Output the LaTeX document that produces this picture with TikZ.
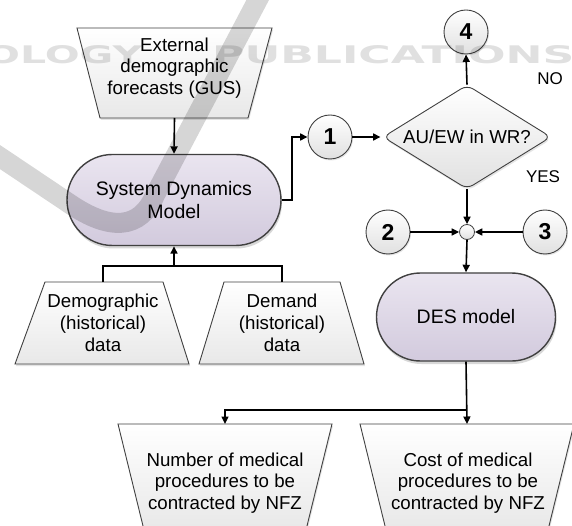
\documentclass[tikz,border=0pt]{standalone}
\usepackage{fontspec}
\usepackage{graphicx}
\setmainfont{Liberation Sans}
\newfontfamily\wmfont{DejaVu Sans}
\usetikzlibrary{shapes.geometric,shapes.misc,arrows.meta,shadows}

\definecolor{lavtop}{HTML}{EAE5F0}
\definecolor{lavbot}{HTML}{D2CADD}
\definecolor{edgegray}{HTML}{404040}

\tikzset{
  txt/.style={font=\fontsize{18.7}{21.7}\selectfont, align=center, inner sep=0pt},
  trapbox/.style={draw=edgegray, line width=0.9pt, top color=white, bottom color=black!9,
    drop shadow={shadow xshift=1pt, shadow yshift=-2pt, opacity=0.22}},
  stadium/.style={rounded rectangle, draw=edgegray, line width=1.4pt,
    top color=lavtop, bottom color=lavbot, inner sep=2pt,
    font=\fontsize{19.5}{23}\selectfont, align=center,
    drop shadow={shadow xshift=1pt, shadow yshift=-3pt, opacity=0.3}},
  numc/.style={circle, draw=edgegray, line width=0.9pt, minimum size=44pt, inner sep=0pt,
    top color=white, bottom color=black!12, font=\fontsize{23}{23}\selectfont\bfseries,
    drop shadow={shadow xshift=1pt, shadow yshift=-1.5pt, opacity=0.2}},
  joint/.style={circle, draw=edgegray, line width=0.8pt, minimum size=15pt, inner sep=0pt,
    top color=white, bottom color=black!12},
  decision/.style={diamond, draw=edgegray, line width=0.9pt, minimum width=168pt,
    minimum height=104pt, aspect=1.6, inner sep=0pt, rounded corners=7pt,
    top color=white, bottom color=black!12, font=\fontsize{18.7}{21.7}\selectfont,
    drop shadow={shadow xshift=1pt, shadow yshift=-2pt, opacity=0.2}},
  conn/.style={draw=black, line width=1.6pt, -{Triangle[length=7.5pt,width=7pt]}},
  plainline/.style={draw=black, line width=1.1pt},
  lbl/.style={font=\fontsize{17}{17}\selectfont, inner sep=0pt}
}

\begin{document}
\begin{tikzpicture}[x=1pt,y=-1pt]
  \clip (0,0) rectangle (572,526);
  \fill[white] (0,0) rectangle (572,526);

  % inputs to the system dynamics model
  \path[trapbox] (77,28) -- (272,28) -- (248,118) -- (100,118) -- cycle;
  \node[txt] (ext) at (174.5,68) {External\\demographic\\forecasts (GUS)};
  \coordinate (ext-s) at (174.5,118);

  \path[trapbox] (45,282) -- (163,282) -- (189,364) -- (15,364) -- cycle;
  \node[txt] (demo) at (103,323) {Demographic\\(historical)\\data};
  \coordinate (demo-n) at (103,282);

  \path[trapbox] (224,282) -- (340,282) -- (364,364) -- (199,364) -- cycle;
  \node[txt] (dem) at (282,323) {Demand\\(historical)\\data};
  \coordinate (dem-n) at (282,282);

  % models
  \node[stadium, minimum width=218pt, minimum height=91pt] (sd) at (174,200) {System Dynamics\\Model};
  \node[stadium, minimum width=183pt, minimum height=88pt] (des) at (466,317) {DES model};

  % decision and connectors
  \node[decision] (dia) at (467,137) {AU/EW in WR?};
  \node[numc] (c1) at (330,137) {1};
  \node[numc] (c4) at (466,32) {4};
  \node[numc] (c2) at (388,232) {2};
  \node[numc] (c3) at (545,232) {3};
  \node[joint] (jn) at (467,232) {};

  \node[lbl] (no) at (550,79) {NO};
  \node[lbl] (yes) at (543,177) {YES};

  % outputs
  \path[trapbox] (118,424) -- (332,424) -- (306,530) -- (144,530) -- cycle;
  \node[txt] (out1) at (225,483) {Number of medical\\procedures to be\\contracted by NFZ};
  \coordinate (out1-n) at (225,424);

  \path[trapbox] (360,424) -- (574,424) -- (548,530) -- (386,530) -- cycle;
  \node[txt] (out2) at (468,483) {Cost of medical\\procedures to be\\contracted by NFZ};
  \coordinate (out2-n) at (467,424);

  % connectors
  \draw[conn] (ext-s) -- (sd.north);
  \coordinate (sd-join) at (174,266);
  \draw[plainline] (demo-n) -- (demo-n |- sd-join) -| (dem-n);
  \draw[conn] (sd-join) -- (sd.south);
  \draw[conn] (sd.east) -- ++(10,0) |- (c1.west);
  \draw[conn] (c1.east) -- ([xshift=-2pt]dia.west);
  \draw[conn] (dia.north) -- (c4.south);
  \draw[conn] (dia.south) -- (jn.north);
  \draw[conn] (c2.east) -- (jn.west);
  \draw[conn] (c3.west) -- (jn.east);
  \draw[conn] (jn.south) -- (des.north);
  \coordinate (split) at (467,410);
  \draw[conn] (des.south) -- (out2-n);
  \draw[conn, line width=1.3pt] (split) -| (out1-n);

  % publisher watermark
  \begin{scope}[transparency group, opacity=0.16]
    \draw[black, line width=20pt] (-12,149) -- (70,204)
      .. controls (110,231) and (140,230) .. (155,195) -- (264,-12);
  \end{scope}
  \begin{scope}[transparency group, opacity=0.12]
    \node[anchor=west, inner sep=0pt] (wm1) at (-15,55)
      {\resizebox{157pt}{18pt}{\wmfont\bfseries OLOGY}};
    \node[anchor=west, inner sep=0pt] (wm2) at (212,55)
      {\resizebox{362pt}{18pt}{\wmfont\bfseries PUBLICATIONS}};
  \end{scope}
\end{tikzpicture}
\end{document}
